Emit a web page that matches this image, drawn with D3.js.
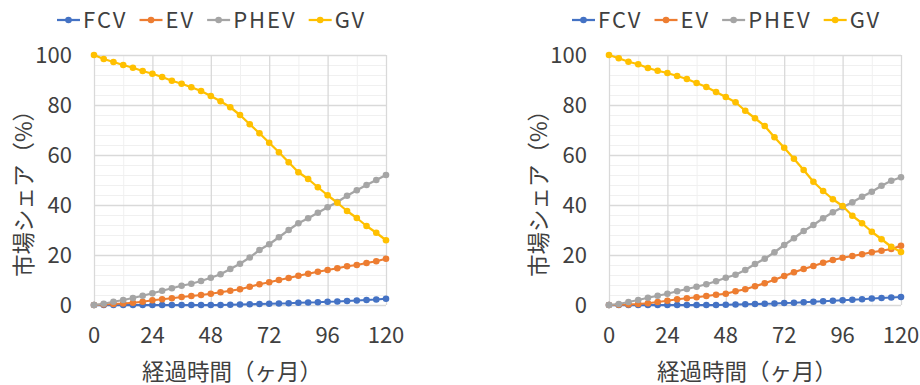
<!DOCTYPE html>
<html>
<head>
<meta charset="utf-8">
<script src="https://cdn.jsdelivr.net/npm/d3@7"></script>
<style>
  body { margin: 0; background: #fff; }
  text { font-family: "Noto Sans CJK JP", "Noto Sans", sans-serif; fill: #404040; }
</style>
</head>
<body>
<script>
// months elapsed (every 4 months)
var months = [0, 4, 8, 12, 16, 20, 24, 28, 32, 36, 40, 44, 48, 52, 56, 60,
              64, 68, 72, 76, 80, 84, 88, 92, 96, 100, 104, 108, 112, 116, 120];
var xTicks = [0, 24, 48, 72, 96, 120];
var yTicks = [0, 20, 40, 60, 80, 100];
var seriesNames = ["FCV", "EV", "PHEV", "GV"];

// left chart
var fcvLeft = [0, 0, 0, 0, 0, 0, 0, 0, 0, 0, 0, 0, 0, 0, 0.1, 0.2,
               0.3, 0.4, 0.5, 0.6, 0.7, 0.9, 1.0, 1.1, 1.3, 1.4, 1.6, 1.8, 2.0, 2.2, 2.5];
var evLeft = [0, 0.2, 0.4, 0.6, 0.9, 1.3, 1.9, 2.3, 2.7, 3.2, 3.6, 4.0, 4.5, 5.1, 5.7, 6.3,
              7.3, 8.3, 9.1, 10.0, 10.8, 11.7, 12.5, 13.3, 14.0, 14.7, 15.5, 16.0, 16.8, 17.5, 18.5];
var phevLeft = [0, 0.5, 1.3, 2.0, 2.8, 3.7, 4.7, 5.7, 6.7, 7.7, 8.5, 9.6, 10.9, 12.3, 14.4, 16.5,
                19.0, 22.0, 24.3, 27.1, 30.0, 32.7, 34.7, 36.9, 39.1, 41.2, 43.7, 45.9, 48.0, 50.0, 52.0];
var gvLeft = [100, 98.4, 97.2, 96.0, 94.9, 93.6, 92.5, 91.2, 89.7, 88.5, 87.1, 85.6, 83.6, 81.5, 79.1, 76.0,
              72.3, 68.7, 64.9, 61.1, 57.1, 53.1, 50.4, 47.1, 43.9, 40.9, 37.6, 34.8, 31.6, 28.9, 25.9];

// right chart
var fcvRight = [0, 0, 0, 0, 0, 0, 0, 0, 0, 0, 0, 0, 0.1, 0.2, 0.3, 0.4,
                0.5, 0.6, 0.8, 0.9, 1.1, 1.3, 1.5, 1.7, 1.9, 2.1, 2.3, 2.6, 2.8, 3.0, 3.2];
var evRight = [0, 0.1, 0.2, 0.4, 0.7, 1.2, 1.7, 2.3, 2.7, 3.1, 3.6, 4.1, 4.5, 5.5, 6.3, 7.5,
               8.7, 10.1, 11.6, 13.1, 14.4, 15.6, 16.9, 18.0, 18.9, 19.6, 20.3, 21.1, 21.7, 22.4, 23.7];
var phevRight = [0, 0.4, 1.2, 2.0, 2.9, 3.7, 4.5, 5.5, 6.4, 7.3, 8.3, 9.5, 10.9, 12.1, 14.0, 16.4,
                 18.5, 21.1, 24.0, 26.7, 29.6, 32.0, 34.7, 37.1, 39.1, 41.1, 43.3, 45.3, 47.7, 49.7, 51.1];
var gvRight = [100, 98.7, 97.3, 96.3, 94.8, 93.7, 92.8, 91.6, 90.4, 88.8, 87.2, 85.2, 83.2, 81.1, 77.7, 74.7,
               71.6, 67.1, 62.9, 58.5, 54.0, 49.3, 45.6, 42.3, 39.6, 35.7, 32.7, 29.3, 26.3, 23.3, 21.2];

var colors = ["#4472C4", "#ED7D31", "#A5A5A5", "#FFC000"];
var xTitle = "経過時間（ヶ月）";
var yTitle = "市場シェア（%）";

var width = 920, height = 385;
var svg = d3.select("body").append("svg")
    .attr("width", width)
    .attr("height", height);

function drawChart(offsetX, series) {
    var left = offsetX + 94, right = offsetX + 386;
    var top = 55, bottom = 305;

    var x = d3.scaleLinear().domain([0, 120]).range([left, right]);
    var y = d3.scaleLinear().domain([0, 100]).range([bottom, top]);

    var g = svg.append("g");

    // minor grid
    g.selectAll(".hminor").data(d3.range(0, 101, 4)).enter().append("line")
        .attr("x1", left).attr("x2", right)
        .attr("y1", function(d) { return y(d) + 0.5; })
        .attr("y2", function(d) { return y(d) + 0.5; })
        .attr("stroke", "#f0f0f0");
    g.selectAll(".vminor").data(d3.range(12, 121, 24)).enter().append("line")
        .attr("y1", top).attr("y2", bottom)
        .attr("x1", function(d) { return x(d) + 0.5; })
        .attr("x2", function(d) { return x(d) + 0.5; })
        .attr("stroke", "#f0f0f0");
    // major grid
    g.selectAll(".hmajor").data(yTicks).enter().append("line")
        .attr("x1", left).attr("x2", right)
        .attr("y1", function(d) { return y(d) + 0.5; })
        .attr("y2", function(d) { return y(d) + 0.5; })
        .attr("stroke", "#d9d9d9").attr("stroke-width", 1.3);
    g.selectAll(".vmajor").data(xTicks).enter().append("line")
        .attr("y1", top).attr("y2", bottom)
        .attr("x1", function(d) { return x(d) + 0.5; })
        .attr("x2", function(d) { return x(d) + 0.5; })
        .attr("stroke", "#d9d9d9").attr("stroke-width", 1.3);

    // tick labels
    g.selectAll(".ylab").data(yTicks).enter().append("text")
        .attr("x", left - 22)
        .attr("y", function(d) { return y(d); })
        .attr("dy", "0.36em")
        .attr("text-anchor", "end")
        .style("font-size", "22px")
        .text(function(d) { return d; });
    g.selectAll(".xlab").data(xTicks).enter().append("text")
        .attr("x", function(d) { return x(d); })
        .attr("y", 335)
        .attr("dy", "0.36em")
        .attr("text-anchor", "middle")
        .style("font-size", "22px")
        .text(function(d) { return d; });

    // titles
    g.append("text")
        .attr("x", (left + right) / 2 - 8)
        .attr("y", 372)
        .attr("dy", "0.36em")
        .attr("text-anchor", "middle")
        .style("font-size", "22.5px")
        .text(xTitle);
    g.append("text")
        .attr("transform", "translate(" + (left - 70) + "," + 188 + ") rotate(-90)")
        .attr("dy", "0.36em")
        .attr("text-anchor", "middle")
        .style("font-size", "22.5px")
        .text(yTitle);

    // series
    var line = d3.line()
        .x(function(d, i) { return x(months[i]); })
        .y(function(d) { return y(d); });

    series.forEach(function(vals, k) {
        g.append("path")
            .attr("d", line(vals))
            .attr("fill", "none")
            .attr("stroke", colors[k])
            .attr("stroke-width", 2.25)
            .attr("stroke-linejoin", "round");
        g.selectAll(".pt" + k).data(vals).enter().append("circle")
            .attr("cx", function(d, i) { return x(months[i]); })
            .attr("cy", function(d) { return y(d); })
            .attr("r", 3.3)
            .attr("fill", colors[k]);
    });

    // legend
    var lx = offsetX + 57;
    seriesNames.forEach(function(name, k) {
        var lg = g.append("g");
        lg.append("line")
            .attr("x1", lx).attr("x2", lx + 23)
            .attr("y1", 20).attr("y2", 20)
            .attr("stroke", colors[k]).attr("stroke-width", 2.25);
        lg.append("circle")
            .attr("cx", lx + 11.5).attr("cy", 20).attr("r", 3.3)
            .attr("fill", colors[k]);
        var t = lg.append("text")
            .attr("x", lx + 26)
            .attr("y", 20)
            .attr("dy", "0.36em")
            .style("font-size", "22px")
            .style("letter-spacing", "2px")
            .text(name);
        lx = lx + 26 + t.node().getComputedTextLength() + 12;
    });
}

drawChart(0, [fcvLeft, evLeft, phevLeft, gvLeft]);
drawChart(515, [fcvRight, evRight, phevRight, gvRight]);
</script>
</body>
</html>
